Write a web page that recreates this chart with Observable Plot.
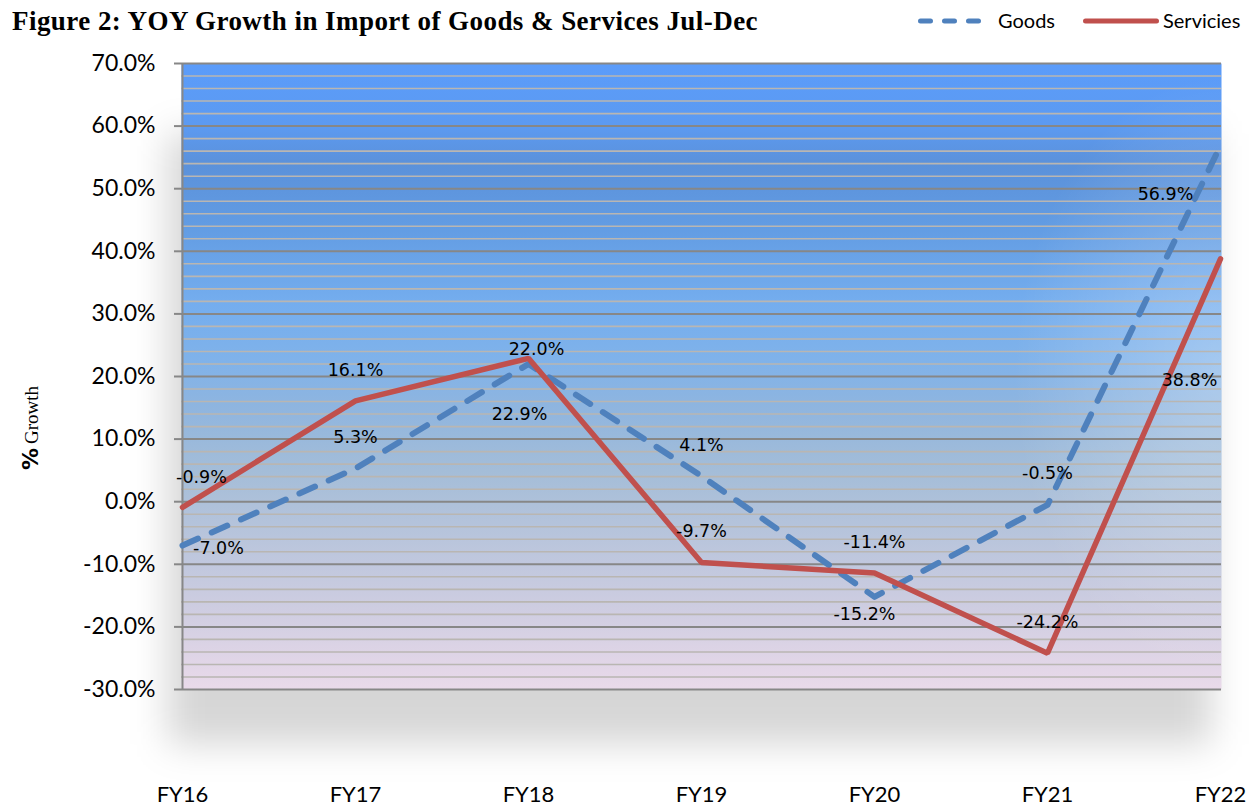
<!DOCTYPE html>
<html>
<head>
<meta charset="utf-8">
<script src="https://cdn.jsdelivr.net/npm/d3@7"></script>
<script src="https://cdn.jsdelivr.net/npm/@observablehq/plot@0.6"></script>
<style>
  html, body { margin: 0; padding: 0; background: #fff; }
  #wrap { position: relative; width: 1260px; height: 812px; overflow: hidden; }
  #head { position: relative; height: 45px; }
  #title { position: absolute; left: 12px; top: 6px; font: bold 27px "Liberation Serif", "Times New Roman", serif; letter-spacing: 0.45px; color: #000; white-space: nowrap; }
  .leg { position: absolute; top: 8px; font: 20px Lato, sans-serif; color: #000; white-space: nowrap; line-height: 24px; }
  .legsw { position: absolute; top: 14px; }
  #ylab { position: absolute; left: 30px; top: 428px; transform: translate(-50%, -50%) rotate(-90deg); white-space: nowrap; color: #000; }
  #ylab .p { font: bold 22px "DejaVu Sans", sans-serif; }
  #ylab .g { font: 19px "Liberation Serif", serif; }
</style>
</head>
<body>
<div id="wrap">
  <div id="head">
    <div id="title"></div>
  </div>
  <div id="chart"></div>
  <div id="ylab"><span class="p">%</span> <span class="g">Growth</span></div>
</div>
<script>
// ---- data ----
const categories = ["FY16", "FY17", "FY18", "FY19", "FY20", "FY21", "FY22"];
const goods = [-7.0, 5.3, 22.0, 4.1, -15.2, -0.5, 56.9];
const services = [-0.9, 16.1, 22.9, -9.7, -11.4, -24.2, 38.8];
const seriesNames = ["Goods", "Servicies"];
const yTicks = [-30, -20, -10, 0, 10, 20, 30, 40, 50, 60, 70];
const titleText = "Figure 2: YOY Growth in Import of Goods & Services Jul-Dec";

// ---- build table ----
const rows = [];
categories.forEach((c, i) => rows.push({series: seriesNames[0], cat: c, value: goods[i]}));
categories.forEach((c, i) => rows.push({series: seriesNames[1], cat: c, value: services[i]}));

document.getElementById("title").textContent = titleText;

// legend (HTML, above the SVG)
const head = document.getElementById("head");
head.insertAdjacentHTML("beforeend", `
  <svg class="legsw" style="left:915px" width="74" height="14"><line x1="5.5" x2="68.5" y1="7" y2="7" stroke="#4f81bd" stroke-width="5" stroke-dasharray="10,14" stroke-linecap="round"/></svg>
  <div class="leg" style="left:998px">${seriesNames[0]}</div>
  <svg class="legsw" style="left:1080px" width="82" height="14"><line x1="5.5" x2="76.5" y1="7" y2="7" stroke="#c0504d" stroke-width="5" stroke-linecap="round"/></svg>
  <div class="leg" style="left:1163px">${seriesNames[1]}</div>
`);

// label nudges in pixels (layout only)
const nudge = {
  "Goods|FY16": [36, 3], "Goods|FY18": [8, -15], "Goods|FY20": [-10, 18], "Goods|FY22": [-55, 49],
  "Servicies|FY16": [19, -30], "Servicies|FY18": [-9, 56], "Servicies|FY22": [-31, 122]
};
const defaultNudge = [0, -31];

const minor = d3.range(-30, 71, 2).filter(v => v % 10 !== 0);
const color = d => d === seriesNames[0] ? "#4f81bd" : "#c0504d";

const labelMarks = rows.map(r => {
  const [dx, dy] = nudge[`${r.series}|${r.cat}`] || defaultNudge;
  return Plot.text([r], {x: "cat", y: "value", text: d => d.value.toFixed(1) + "%", dx, dy,
    fontSize: 17.5, fontFamily: "DejaVu Sans, sans-serif", fill: "#000"});
});

const svg = Plot.plot({
  width: 1260,
  height: 767,
  marginTop: 18,
  marginBottom: 123,
  marginLeft: 181,
  marginRight: 39,
  style: {background: "transparent", overflow: "visible"},
  x: {type: "point", domain: categories, padding: 0, axis: null},
  y: {domain: [-30, 70], axis: null},
  marks: [
    Plot.frame({fill: "#000", fillOpacity: 0.16, stroke: null, insetLeft: -14, insetTop: 70, insetBottom: -55, insetRight: 10}),
    Plot.frame({fill: "url(#bgGrad)", stroke: null}),
    Plot.frame({fill: "url(#glow)", stroke: null}),
    Plot.ruleY(minor, {stroke: "#b9b6b2", strokeWidth: 1.6}),
    Plot.ruleY(yTicks, {stroke: "#878787", strokeWidth: 2}),
    Plot.ruleX([categories[0]], {stroke: "#878787", strokeWidth: 2}),
    Plot.axisY({ticks: yTicks, tickFormat: d => d.toFixed(1) + "%", tickSize: 7, tickPadding: 19,
      stroke: "#878787", strokeWidth: 2, fontSize: 23, fontFamily: "Lato, sans-serif", fill: "#000", label: null}),
    Plot.axisX({tickSize: 0, tickPadding: 97, fontSize: 22, fontFamily: "Lato, sans-serif", fill: "#000", label: null}),
    Plot.line(rows.filter(r => r.series === seriesNames[0]), {x: "cat", y: "value", stroke: color(seriesNames[0]),
      strokeWidth: 6, strokeDasharray: "17,15", strokeLinecap: "round", strokeLinejoin: "round"}),
    Plot.line(rows.filter(r => r.series === seriesNames[1]), {x: "cat", y: "value", stroke: color(seriesNames[1]),
      strokeWidth: 5.5, strokeLinejoin: "miter"}),
    ...labelMarks
  ]
});

// gradient + shadow definitions
const s = d3.select(svg);
const defs = s.insert("defs", ":first-child");
const lg = defs.append("linearGradient").attr("id", "bgGrad").attr("x1", 0).attr("y1", 0).attr("x2", 0).attr("y2", 1);
[[0, "#5b9cfa"], [0.1, "#5c9af1"], [0.16, "#5b91da"], [0.26, "#629ce3"], [0.38, "#74adee"], [0.47, "#7fb2ea"],
 [0.55, "#8fb5df"], [0.65, "#a4bdd8"], [0.76, "#b9c5dc"], [0.87, "#cecde1"], [1, "#eadaea"]]
  .forEach(([o, c]) => lg.append("stop").attr("offset", o).attr("stop-color", c));
const rg = defs.append("radialGradient").attr("id", "glow").attr("cx", 1).attr("cy", 0.5).attr("r", 0.2)
  .attr("gradientTransform", "translate(1,0.5) scale(1,2.4) translate(-1,-0.5)");
rg.append("stop").attr("offset", 0).attr("stop-color", "#ffffff").attr("stop-opacity", 0.3);
rg.append("stop").attr("offset", 1).attr("stop-color", "#ffffff").attr("stop-opacity", 0);
const f = defs.append("filter").attr("id", "blur").attr("x", "-10%").attr("y", "-20%").attr("width", "120%").attr("height", "140%");
f.append("feGaussianBlur").attr("stdDeviation", 18);
const frames = s.selectAll('[aria-label="frame"]').nodes();
if (frames.length) d3.select(frames[0]).attr("filter", "url(#blur)");

document.getElementById("chart").appendChild(svg);
</script>
</body>
</html>
